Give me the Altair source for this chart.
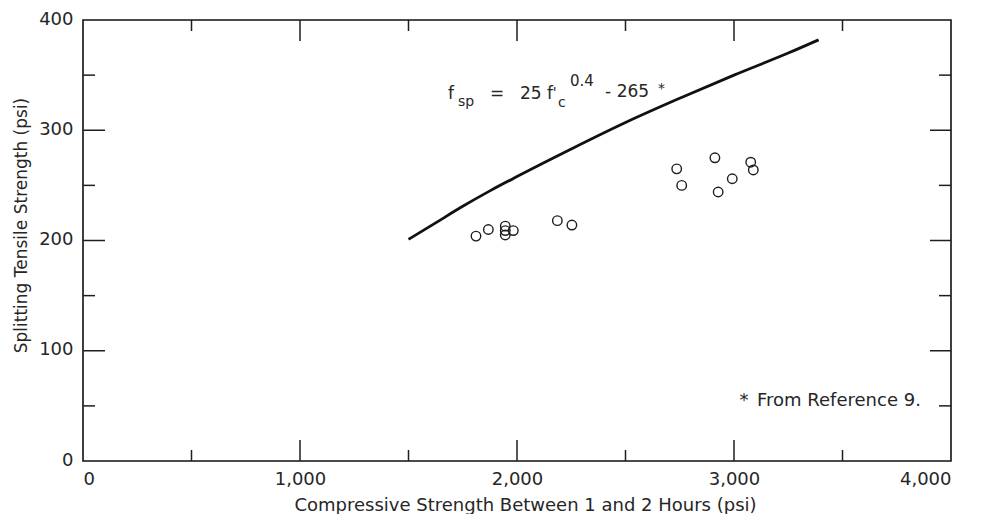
import altair as alt
import pandas as pd

# Observed data points (compressive strength, splitting tensile strength), psi
comp_strength = [1811, 1868, 1946, 1946, 1946, 1983, 2186, 2253, 2736, 2759, 2912, 2927, 2992, 3077, 3089]
split_strength = [204, 210, 213, 209, 205, 209, 218, 214, 265, 250, 275, 244, 256, 271, 264]

# Curve: f_sp = 25 f'c^0.4 - 265
curve_fc = [1500, 1625, 1750, 1875, 2000, 2250, 2500, 2750, 3000, 3250, 3390]
curve_fsp = [201, 216, 231, 245, 258, 283, 307, 329, 350, 370, 382]

x_labels = [0, 1000, 2000, 3000, 4000]
y_labels = [0, 100, 200, 300, 400]
x_major = [1000, 2000, 3000]
x_minor = [500, 1500, 2500, 3500]
y_major = [100, 200, 300]
y_minor = [50, 150, 250, 350]

# Annotation pieces (text, anchor in data units)
eq_main_text = ["f", "=", "25 f", "- 265"]
eq_main_x = [1682, 1876, 2014, 2406]
eq_main_y = [328, 328, 328, 330]
eq_sub_text = ["sp", "c", "'", "*"]
eq_sub_x = [1728, 2189, 2165, 2650]
eq_sub_y = [322, 321, 330, 334]
eq_sup_text = ["0.4"]
eq_sup_x = [2244]
eq_sup_y = [340]
note_text = ["*", "From Reference 9."]
note_x = [3025, 3106]
note_y = [54, 54]

W, H = 868, 441
FONT = "DejaVu Sans"
INK = "#1e1e1e"
TXT = "#262626"

X = alt.X(
    "x:Q",
    scale=alt.Scale(domain=[0, 4000], nice=False, zero=False),
    axis=alt.Axis(
        values=x_labels, format=",d", labelPadding=9,
        title="Compressive Strength Between 1 and 2 Hours (psi)",
        titleX=442, titleY=49, titleBaseline="alphabetic", titleFontSize=18,
    ),
)
Y = alt.Y(
    "y:Q",
    scale=alt.Scale(domain=[0, 400], nice=False, zero=False),
    axis=alt.Axis(
        values=y_labels, labelPadding=10, labelOffset=-1,
        title="Splitting Tensile Strength (psi)",
        titleX=-57, titleY=205, titleBaseline="alphabetic", titleFontSize=17,
        titleAngle=270,
    ),
)

pts = pd.DataFrame({"x": comp_strength, "y": split_strength})
curve = pd.DataFrame({"x": curve_fc, "y": curve_fsp})

points = alt.Chart(pts).mark_point(
    shape="circle", filled=False, size=90, stroke=INK, strokeWidth=1.4, opacity=1
).encode(x=X, y=Y)

line = alt.Chart(curve).mark_line(
    stroke="#111", strokeWidth=2.8, interpolate="monotone"
).encode(x=X, y=Y)


def xticks(vals, length, top):
    df = pd.DataFrame({"x": vals})
    if top:
        yv, y2v = 0, length
    else:
        yv, y2v = H, H - length
    return alt.Chart(df).mark_rule(stroke=INK, strokeWidth=1.5).encode(
        x=X, y=alt.value(yv), y2=alt.value(y2v)
    )


def yticks(vals, length, right):
    df = pd.DataFrame({"y": vals})
    if right:
        xv, x2v = W, W - length
    else:
        xv, x2v = 0, length
    return alt.Chart(df).mark_rule(stroke=INK, strokeWidth=1.5).encode(
        y=Y, x=alt.value(xv), x2=alt.value(x2v)
    )


ticks = [
    xticks(x_major, 21, False), xticks(x_minor, 11, False),
    xticks(x_major, 21, True), xticks(x_minor, 11, True),
    yticks(y_major, 22, False), yticks(y_minor, 12, False),
    yticks(y_major, 21, True), yticks(y_minor, 12, True),
]


def texts(tx, xs, ys, size, baseline="alphabetic"):
    df = pd.DataFrame({"x": xs, "y": ys, "t": tx})
    return alt.Chart(df).mark_text(
        align="left", baseline=baseline, font=FONT, fontSize=size, color=TXT
    ).encode(x=X, y=Y, text="t:N")


eq_main = texts(eq_main_text, eq_main_x, eq_main_y, 17)
eq_sub = texts(eq_sub_text, eq_sub_x, eq_sub_y, 14)
eq_sup = texts(eq_sup_text, eq_sup_x, eq_sup_y, 15)
note = texts(note_text, note_x, note_y, 18, baseline="middle")

chart = alt.layer(line, points, *ticks, eq_main, eq_sub, eq_sup, note).properties(
    width=W, height=H,
    autosize=alt.AutoSizeParams(type="none"),
    padding={"left": 75, "top": 12, "right": 30, "bottom": 53},
    background="white",
).configure_view(
    stroke="#111", strokeWidth=1.6
).configure_axis(
    domain=False, ticks=False, grid=False,
    labelFont=FONT, labelFontSize=18, labelColor=TXT,
    titleFont=FONT, titleFontWeight="normal", titleColor=TXT,
)

chart.save("out.html", embed_options={"renderer": "svg", "actions": False})
